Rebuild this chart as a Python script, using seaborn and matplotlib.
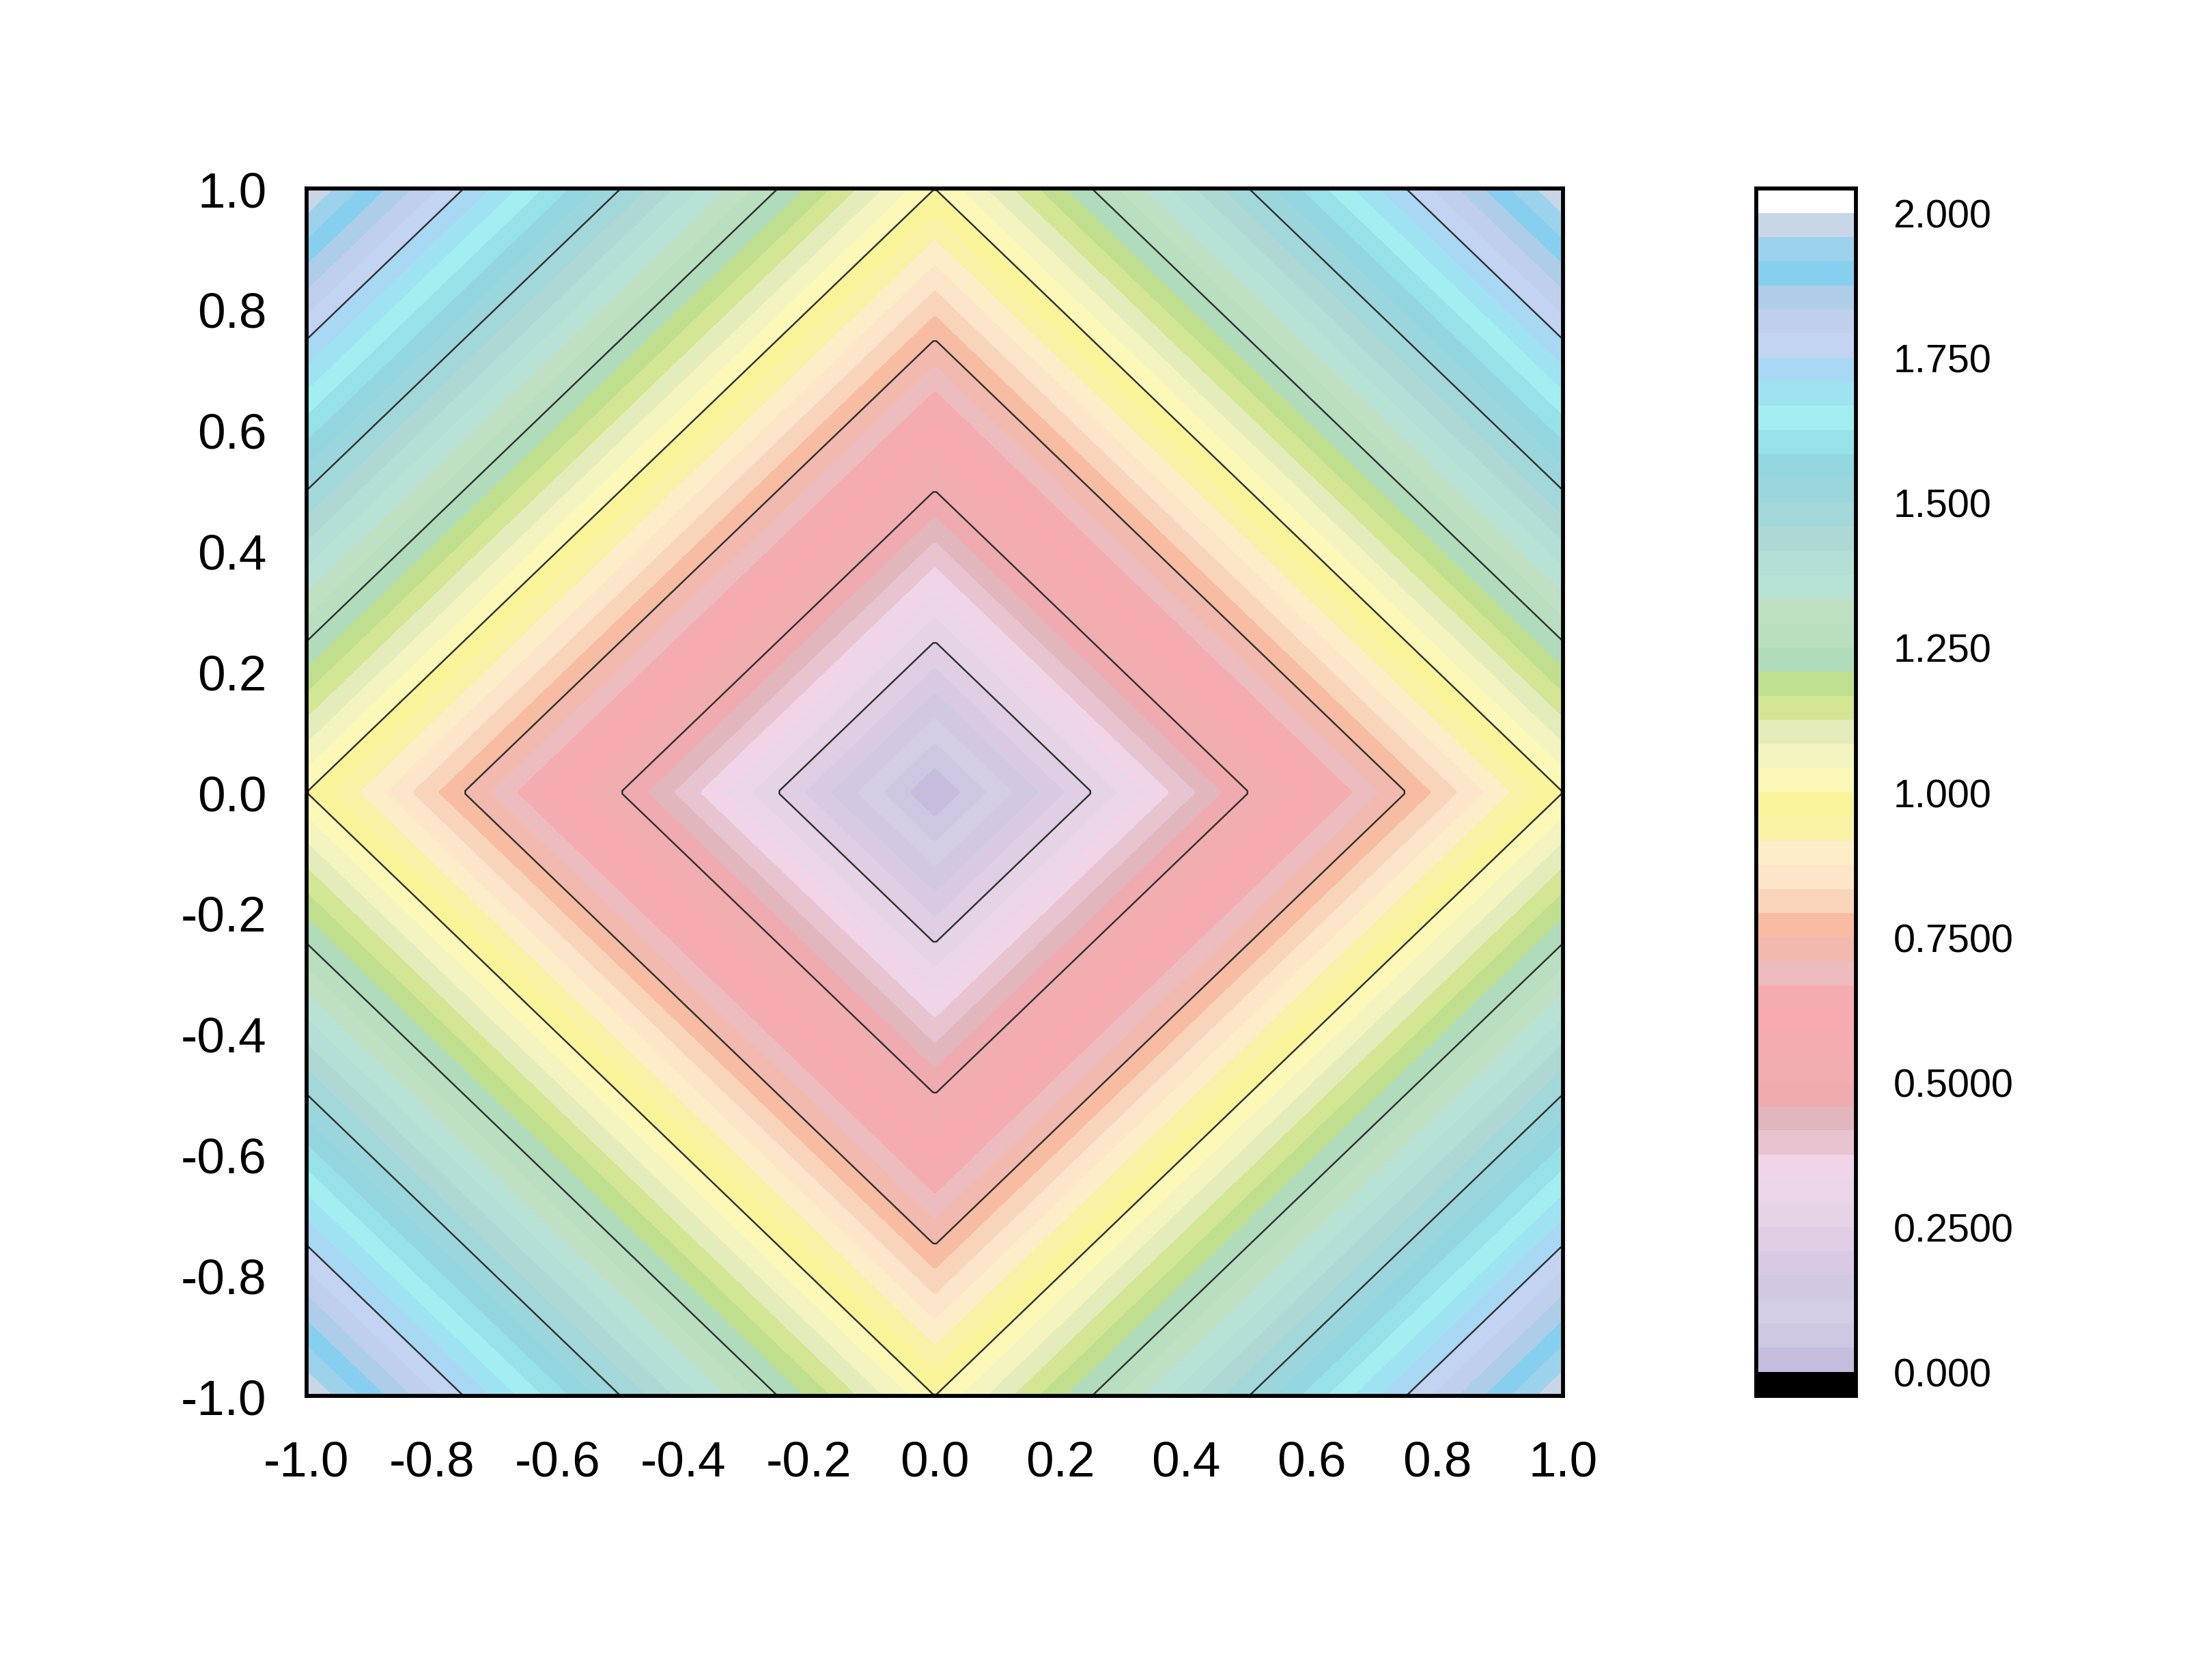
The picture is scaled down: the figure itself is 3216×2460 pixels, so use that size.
import matplotlib
matplotlib.use("Agg")
import matplotlib.pyplot as plt
from matplotlib.colors import ListedColormap
import numpy as np
import seaborn as sns

# grid of the surface z = |x| + |y|
x_vals = np.linspace(-1.0, 1.0, 400)
y_vals = np.linspace(-1.0, 1.0, 400)

# filled levels: 50 bands of width 1/24 from -1/24 to 2 + 1/24
fill_levels = np.linspace(-1 / 24, 2 + 1 / 24, 51)
line_levels = [0.25, 0.5, 0.75, 1.0, 1.25, 1.5, 1.75]

# band colours, bottom to top
band_colors = [
    "#000000", "#c5bcde", "#cdc7e2", "#d3cee4", "#d1c8e2", "#d8cae3",
    "#dfcee4", "#e5d4e6", "#ebd5e8", "#f0d5e8", "#e7c4cf", "#e2b6bd",
    "#efabb0", "#f2adb1", "#f5acb1", "#f6abb0", "#f5acb0", "#ecbcbf",
    "#f2b9ae", "#f7bca2", "#f8d4bb", "#fce5c8", "#fdeec9", "#f8f1a6",
    "#f9f49a", "#fcf8b8", "#f3f4c0", "#e5ecbb", "#d2e693", "#bfdf8e",
    "#b1dcbb", "#b9dfc0", "#bfe0c3", "#b9e2d6", "#b5dfd6", "#afd8d5",
    "#a3d8da", "#9bd6dd", "#93d6e0", "#97e1e9", "#a2eef1", "#9fe3f3",
    "#a9d8f4", "#c2d4f1", "#bfcfec", "#aecde9", "#87cfee", "#9dd2ec",
    "#c9d6e6", "#ffffff",
]

x_ticks = [-1.0, -0.8, -0.6, -0.4, -0.2, 0.0, 0.2, 0.4, 0.6, 0.8, 1.0]
y_ticks = [-1.0, -0.8, -0.6, -0.4, -0.2, 0.0, 0.2, 0.4, 0.6, 0.8, 1.0]
cbar_ticks = [0.0, 0.25, 0.5, 0.75, 1.0, 1.25, 1.5, 1.75, 2.0]
cbar_labels = ["0.000", "0.2500", "0.5000", "0.7500", "1.000",
               "1.250", "1.500", "1.750", "2.000"]

sns.set_theme(style="white")
plt.rcParams["font.family"] = ["Liberation Sans", "DejaVu Sans"]
plt.rcParams["axes.unicode_minus"] = False

X, Y = np.meshgrid(x_vals, y_vals)
Z = np.abs(X) + np.abs(Y)

fig = plt.figure(figsize=(10.72, 8.203), dpi=300)
ax = fig.add_axes([0.1396, 0.1690, 0.5722, 0.7184])
cax = fig.add_axes([0.7998, 0.1690, 0.0454, 0.7184])

cmap = ListedColormap(band_colors)
cs = ax.contourf(X, Y, Z, levels=fill_levels, cmap=cmap,
                 vmin=fill_levels[0], vmax=fill_levels[-1])
ax.contour(X, Y, Z, levels=line_levels, colors="#333333", linewidths=0.6)

ax.set_xlim(-1, 1)
ax.set_ylim(-1, 1)
ax.set_xticks(x_ticks)
ax.set_yticks(y_ticks)
ax.set_xticklabels([f"{v:.1f}" for v in x_ticks])
ax.set_yticklabels([f"{v:.1f}" for v in y_ticks])
ax.tick_params(axis="x", length=0, labelsize=17.5, pad=15.5, colors="black")
ax.tick_params(axis="y", length=0, labelsize=17.5, pad=14, colors="black")
for sp in ax.spines.values():
    sp.set_color("black")
    sp.set_linewidth(1.4)

cbar = fig.colorbar(cs, cax=cax)
cbar.set_ticks(cbar_ticks)
cbar.set_ticklabels(cbar_labels)
cbar.ax.tick_params(length=0, labelsize=13.8, pad=13, colors="black")
cbar.outline.set_color("black")
cbar.outline.set_linewidth(1.4)

fig.savefig("out.png", dpi=300, facecolor="white")
